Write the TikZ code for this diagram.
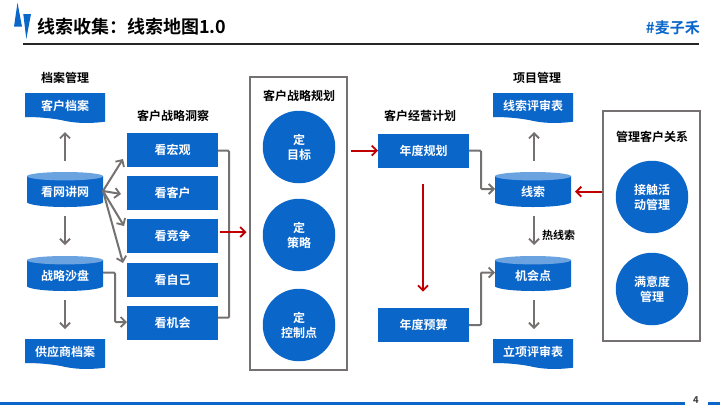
\documentclass[tikz,border=0pt]{standalone}
\usepackage{fontspec}
\setmainfont{Noto Sans CJK SC}[BoldFont={* Bold}]
\usetikzlibrary{arrows.meta}
\definecolor{bl}{HTML}{0B66C9}
\definecolor{blt}{HTML}{6AA3E0}
\definecolor{gr}{HTML}{767171}
\definecolor{rd}{HTML}{C00000}
\tikzset{x=1pt,y=-1pt,
 boxn/.style={fill=bl,text=white,minimum width=91pt,minimum height=34pt,inner sep=0pt,font=\bfseries\fontsize{12}{14}\selectfont,align=center},
 lab/.style={text=black,inner sep=0pt,font=\bfseries\fontsize{12}{14}\selectfont,align=center},
 circn/.style={circle,fill=bl,text=white,minimum size=72.5pt,inner sep=0pt,font=\bfseries\fontsize{12}{15}\selectfont,align=center},
 txtw/.style={text=white,inner sep=0pt,font=\bfseries\fontsize{12}{14}\selectfont},
 garr/.style={draw=gr,line width=2pt,-{Straight Barb[length=5pt,width=10pt,line width=1.8pt]}},
 gline/.style={draw=gr,line width=2pt},
 rarr/.style={draw=rd,line width=2pt,-{Straight Barb[length=5pt,width=10pt,line width=1.8pt]}},
 frm/.style={draw=gr,line width=2pt,fill=white}
}
\newcommand{\cyl}[4]{% name, x-left, y-top, text
 \fill[bl] (#2,#3+4.2) -- (#2,#3+30.5) .. controls (#2+8,#3+36.5) and (#2+68,#3+36.5) .. (#2+76,#3+30.5) -- (#2+76,#3+4.2) -- cycle;
 \fill[blt] (#2+38,#3+4.2) ellipse [x radius=38, y radius=4.2];
 \node[txtw,minimum width=76pt,minimum height=20pt] (#1) at (#2+38,#3+19.5) {#4};
}
\newcommand{\docn}[4]{% name, x-left, y-top, text
 \fill[bl] (#2,#3) -- (#2+80,#3) -- (#2+80,#3+28.7) .. controls (#2+62,#3+31) and (#2+48,#3+30) .. (#2+36,#3+27) .. controls (#2+22,#3+24.5) and (#2+10,#3+24) .. (#2,#3+24) -- cycle;
 \node[txtw,minimum width=80pt,minimum height=20pt] (#1) at (#2+40,#3+12.5) {#4};
}
\begin{document}
\begin{tikzpicture}
\useasboundingbox (0,0) rectangle (720,405);
\fill[white] (0,0) rectangle (720,405);
% header
\fill[bl] (14,26.7) -- (17.5,2.7) -- (22,26.7) -- cycle;
\fill[bl] (23.3,14) -- (31,14) -- (26.3,39) -- cycle;
\draw[line width=2.2pt,draw=black!85] (23,43.7) -- (699,43.7);
\node[anchor=west,inner sep=0pt,font=\bfseries\fontsize{18}{20}\selectfont] (title) at (37,26.5) {线索收集：线索地图1.0};
\node[anchor=east,inner sep=0pt,text=bl,font=\bfseries\fontsize{15}{17}\selectfont] (tag) at (700,28) {\#麦子禾};
% footer
\fill[bl] (0,402) rectangle (685,405);
\fill[bl] (708,402) rectangle (720,405);
\node[inner sep=0pt,font=\bfseries\fontsize{9.5}{10}\selectfont,text=black!80] (pg) at (696,400) {4};
% left col
\node[lab] (l1) at (65,77.7) {档案管理};
\docn{d1}{25}{93}{客户档案}
\cyl{c1}{27}{172}{看网讲网}
\cyl{c2}{27}{256}{战略沙盘}
\docn{d2}{25}{339}{供应商档案}
% col2
\node[lab] (l2) at (173,116) {客户战略洞察};
\node[boxn] (b1) at (172.5,149.5) {看宏观};
\node[boxn] (b2) at (172.5,193) {看客户};
\node[boxn] (b3) at (172.5,236) {看竞争};
\node[boxn] (b4) at (172.5,280) {看自己};
\node[boxn] (b5) at (172.5,323) {看机会};
% frame strategy
\node[frm,minimum width=97pt,minimum height=293pt,inner sep=0pt] (f1) at (298.5,223.5) {};
\node[lab] (l3) at (299,96) {客户战略规划};
\node[circn] (s1) at (299,147) {定\\目标};
\node[circn] (s2) at (299,235) {定\\策略};
\node[circn] (s3) at (299,325) {定\\控制点};
% col plan
\node[lab] (l4) at (420,116) {客户经营计划};
\node[boxn] (p1) at (423.5,151) {年度规划};
\node[boxn] (p2) at (423.5,325) {年度预算};
% project
\node[lab] (l5) at (537,77.7) {项目管理};
\docn{d3}{493}{93}{线索评审表}
\cyl{c3}{495}{172}{线索}
\cyl{c4}{495}{256}{机会点}
\docn{d4}{493}{339}{立项评审表}
\node[anchor=west,inner sep=0pt,font=\bfseries\fontsize{11}{13}\selectfont] (l6) at (542,235) {热线索};
% relation frame
\node[frm,minimum width=97pt,minimum height=230pt,inner sep=0pt] (f2) at (651.3,226.2) {};
\node[lab] (l7) at (652,137) {管理客户关系};
\node[circn] (r1) at (652,197) {接触活\\动管理};
\node[circn] (r2) at (652,289) {满意度\\管理};
% arrows
\coordinate (a1s) at (65,161); \coordinate (a1e) at (65,132);
\draw[garr] (a1s) -- (a1e);
\coordinate (a2s) at (65,216); \coordinate (a2e) at (65,245);
\draw[garr] (a2s) -- (a2e);
\coordinate (a3s) at (65,300); \coordinate (a3e) at (65,329);
\draw[garr] (a3s) -- (a3e);
\coordinate (fan) at (103,191);
\draw[garr] (fan) -- (123,159);
\draw[garr] (fan) -- (121,194);
\draw[garr] (fan) -- (124,226);
\draw[garr] (fan) -- (123,263);
\draw[garr,rounded corners=1pt] (103,272.7) -- (115,272.7) -- (115,322) -- (127,322);
\draw[gline,rounded corners=1pt] (218,150.7) -- (229,150.7) -- (229,317.7) -- (218,317.7);
\draw[rarr] (220,232) -- (246.5,232);
\draw[rarr] (351,150.7) -- (378,150.7);
\draw[rarr] (423,184) -- (423,291.7);
\draw[garr,rounded corners=1pt] (469,150.7) -- (481,150.7) -- (481,189) -- (495,189);
\draw[garr,rounded corners=1pt] (469,325) -- (481,325) -- (481,272.5) -- (495,272.5);
\draw[garr] (534,161) -- (534,132);
\draw[garr] (534,216) -- (534,245);
\draw[garr] (534,300) -- (534,329);
\draw[rarr] (601.7,191.7) -- (575,191.7);
\end{tikzpicture}
\end{document}
